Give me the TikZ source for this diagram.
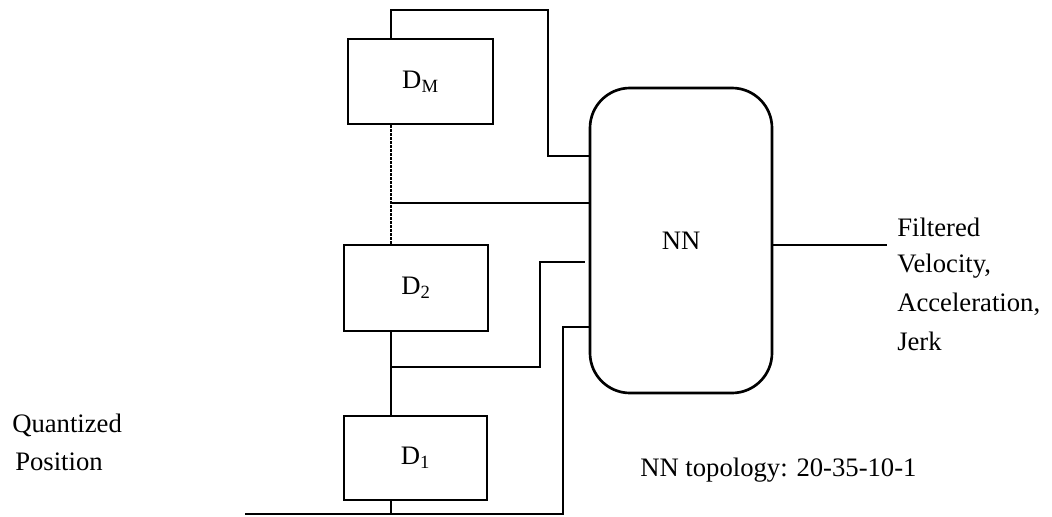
\documentclass[tikz,border=0pt]{standalone}
\usepackage{fontspec}
\setmainfont{Liberation Serif}
\begin{document}
\begin{tikzpicture}[x=0.75pt,y=-0.75pt,
  wire/.style={line width=2pt,line join=miter},
  delaybox/.style={draw,line width=2pt,inner sep=0pt,font=\fontsize{20}{24}\selectfont},
  lbl/.style={inner sep=0pt,anchor=west,font=\fontsize{20}{24}\selectfont}]
\useasboundingbox (0,0) rectangle (1052,517);
% delay boxes
\node[delaybox,minimum width=145*0.75pt,minimum height=85*0.75pt] (dM) at (420.5,81.5) {D\textsubscript{M}};
\node[delaybox,minimum width=144*0.75pt,minimum height=86*0.75pt] (d2) at (416,288) {D\textsubscript{2}};
\node[delaybox,minimum width=143*0.75pt,minimum height=84*0.75pt] (d1) at (415.5,458) {D\textsubscript{1}};
% network
\node[draw,line width=2pt,rounded corners=30pt,minimum width=182*0.75pt,minimum height=305*0.75pt,font=\fontsize{20}{24}\selectfont] (nn) at (681,240.5) {NN};
\coordinate (cx) at (391,0);
% connectors
\draw[wire] (cx |- dM.north) -- (391,10) -- (548,10) -- (548,156) -- (nn.west |- 0,156);
\draw[line width=2pt,densely dotted] (cx |- dM.south) -- (cx |- d2.north);
\draw[wire] (391,203) -- (nn.west |- 0,203);
\draw[wire] (cx |- d2.south) -- (cx |- d1.north);
\draw[wire] (391,367) -- (540,367) -- (540,262) -- (585,262);
\draw[wire] (cx |- d1.south) -- (391,514);
\coordinate (qin) at (245,514);
\draw[wire] (qin) -- (563,514) -- (563,327) -- (nn.west |- 0,327);
\coordinate (out) at (887,245);
\draw[wire] (nn.east |- out) -- (out);
% labels
\node[lbl] (q1) at (12,425) {Quantized};
\node[lbl] (q2) at (15,462) {Position};
\node[lbl] (o1) at (897,227) {Filtered};
\node[lbl] (o2) at (897,266) {Velocity,};
\node[lbl] (o3) at (897,304) {Acceleration,};
\node[lbl] (o4) at (897,341) {Jerk};
\node[lbl] (topo) at (640,470) {NN topology: 20-35-10-1};
\end{tikzpicture}
\end{document}
